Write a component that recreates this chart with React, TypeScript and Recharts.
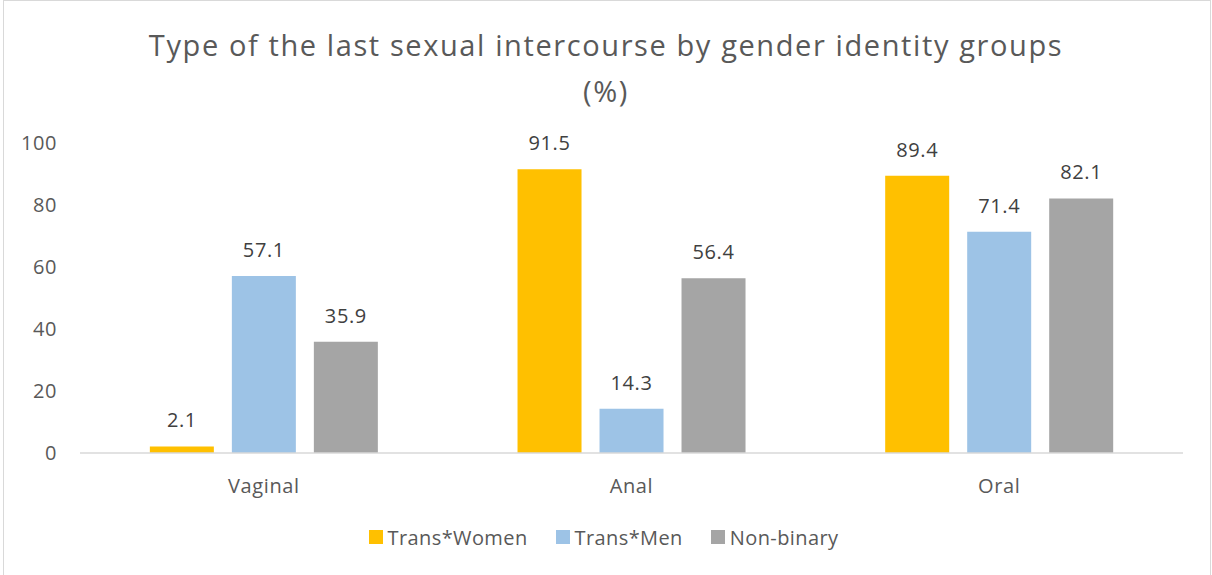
import React from 'react';
import { BarChart, Bar, XAxis, YAxis, Legend, LabelList } from 'recharts';

const categories = ['Vaginal', 'Anal', 'Oral'];
const transWomen = [2.1, 91.5, 89.4];
const transMen = [57.1, 14.3, 71.4];
const nonBinary = [35.9, 56.4, 82.1];
const yTicks = [0, 20, 40, 60, 80, 100];

const series = [
  { key: 'transWomen', name: 'Trans*Women', color: '#FFC000' },
  { key: 'transMen', name: 'Trans*Men', color: '#9DC3E6' },
  { key: 'nonBinary', name: 'Non-binary', color: '#A5A5A5' },
];

const data = categories.map((c, i) => ({
  category: c,
  transWomen: transWomen[i],
  transMen: transMen[i],
  nonBinary: nonBinary[i],
}));

const FONT = '"Open Sans", sans-serif';

const LegendContent = () => (
  <div style={{ display: 'flex', justifyContent: 'center', alignItems: 'center', fontFamily: FONT, fontSize: 20, letterSpacing: 0.4, color: '#595959', height: 26, paddingLeft: 24 }}>
    {series.map((s) => (
      <div key={s.key} style={{ display: 'flex', alignItems: 'center', margin: '0 14px' }}>
        <span style={{ width: 14, height: 14, background: s.color, display: 'inline-block', marginRight: 5 }} />
        <span>{s.name}</span>
      </div>
    ))}
  </div>
);

const tickStyle = { fill: '#595959', fontSize: 20, fontFamily: FONT, letterSpacing: 0.6 };

const App = () => {
  return (
    <div style={{ position: 'absolute', left: 0, top: 0, width: 1212, height: 575, overflow: 'hidden', background: '#fff' }}>
      <div style={{ position: 'absolute', left: 3, top: 0, width: 1206, height: 600, border: '1px solid #d9d9d9' }} />
      <div
        style={{
          position: 'absolute',
          left: 0,
          top: 22,
          width: 1212,
          textAlign: 'center',
          fontFamily: FONT,
          fontSize: 29,
          letterSpacing: 1.6,
          lineHeight: '46px',
          color: '#595959',
        }}
      >
        Type of the last sexual intercourse by gender identity groups
        <br />
        (%)
      </div>
      <div style={{ position: 'absolute', left: 0, top: 0 }}>
        <BarChart
          width={1212}
          height={575}
          data={data}
          margin={{ top: 143, right: 29, left: 0, bottom: 25 }}
          barGap={18}
          barCategoryGap="19%"
        >
          <XAxis
            dataKey="category"
            tickLine={false}
            axisLine={{ stroke: '#d9d9d9', strokeWidth: 1.5 }}
            tick={tickStyle}
            tickMargin={20}
            height={71}
          />
          <YAxis
            domain={[0, 100]}
            ticks={yTicks}
            width={80}
            axisLine={false}
            tickLine={false}
            tick={tickStyle}
            tickMargin={17}
          />
          <Legend verticalAlign="bottom" content={<LegendContent />} />
          {series.map((s) => (
            <Bar key={s.key} dataKey={s.key} name={s.name} fill={s.color} isAnimationActive={false}>
              <LabelList
                dataKey={s.key}
                position="top"
                offset={19}
                style={{ fill: '#404040', fontSize: 20, fontFamily: FONT, letterSpacing: 0.6 }}
              />
            </Bar>
          ))}
        </BarChart>
      </div>
    </div>
  );
};

export default App;
